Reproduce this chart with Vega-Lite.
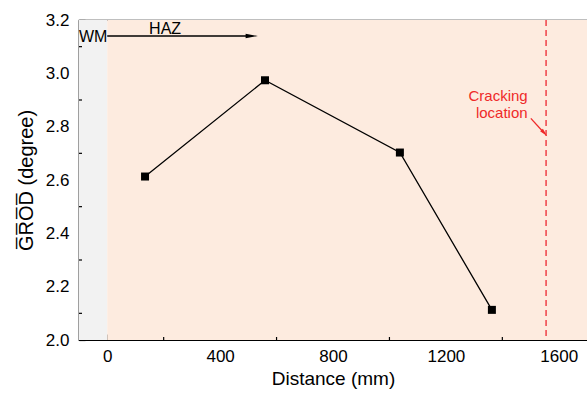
{
  "$schema": "https://vega.github.io/schema/vega-lite/v6.json",
  "width": 508,
  "height": 320,
  "autosize": "none",
  "padding": {"left": 79, "top": 20, "right": 0, "bottom": 55},
  "background": "white",
  "config": {
    "font": "Liberation Sans",
    "view": {"stroke": "black", "strokeWidth": 1.2},
    "axis": {"grid": false, "domainColor": "black", "tickColor": "black", "labelColor": "black", "titleColor": "black", "labelFont": "Liberation Sans", "titleFont": "Liberation Sans", "labelFontSize": 17, "titleFontSize": 19, "titleFontWeight": "normal"}
  },
  "datasets": {
    "pts": [
      {"d": 134, "g": 2.613},
      {"d": 559, "g": 2.974},
      {"d": 1037, "g": 2.703},
      {"d": 1363, "g": 2.113}
    ],
    "zones": [
      {"zone": "WM", "x1": -100, "x2": 0},
      {"zone": "HAZ", "x1": 0, "x2": 1700}
    ]
  },
  "layer": [
    {
      "data": {"name": "zones"},
      "mark": {"type": "rect", "strokeWidth": 0},
      "encoding": {
        "x": {"field": "x1", "type": "quantitative", "scale": {"domain": [-100, 1700], "nice": false, "zero": false},
          "axis": {"title": "Distance (mm)", "values": [0, 400, 800, 1200, 1600], "format": "d", "tickSize": -6, "tickWidth": 1.2, "domainWidth": 1.2, "labelPadding": 14, "titlePadding": 5}},
        "x2": {"field": "x2"},
        "y": {"datum": 2.0, "type": "quantitative", "scale": {"domain": [2.0, 3.2], "nice": false, "zero": false},
          "axis": {"title": "G\u0305R\u0305O\u0305D\u0305 (degree)", "titleFontSize": 20, "values": [2.0, 2.2, 2.4, 2.6, 2.8, 3.0, 3.2], "format": ".1f", "tickSize": -6, "tickWidth": 1.2, "domainWidth": 1.2, "labelPadding": 16, "titlePadding": 9}},
        "y2": {"datum": 3.2},
        "color": {"field": "zone", "type": "nominal", "scale": {"domain": ["WM", "HAZ"], "range": ["#f2f2f2", "#fdebdf"]}, "legend": null}
      }
    },
    {
      "data": {"values": [{"v": 200}, {"v": 600}, {"v": 1000}, {"v": 1400}]},
      "mark": {"type": "rule", "color": "black", "strokeWidth": 1.2, "y2Offset": -3},
      "encoding": {
        "x": {"field": "v", "type": "quantitative"},
        "y": {"datum": 2.0, "type": "quantitative"},
        "y2": {"datum": 2.0}
      }
    },
    {
      "data": {"values": [{"v": 2.1}, {"v": 2.3}, {"v": 2.5}, {"v": 2.7}, {"v": 2.9}, {"v": 3.1}]},
      "mark": {"type": "rule", "color": "black", "strokeWidth": 1.2, "x2Offset": 3},
      "encoding": {
        "y": {"field": "v", "type": "quantitative"},
        "x": {"datum": -100, "type": "quantitative"},
        "x2": {"datum": -100}
      }
    },
    {
      "data": {"values": [{"x": 1555}]},
      "mark": {"type": "rule", "color": "#ef4047", "strokeWidth": 1.5, "strokeDash": [6, 4]},
      "encoding": {"x": {"field": "x", "type": "quantitative"}}
    },
    {
      "data": {"name": "pts"},
      "mark": {"type": "line", "color": "black", "strokeWidth": 1.3},
      "encoding": {"x": {"field": "d", "type": "quantitative"}, "y": {"field": "g", "type": "quantitative"}}
    },
    {
      "data": {"name": "pts"},
      "mark": {"type": "point", "shape": "square", "filled": true, "color": "black", "opacity": 1, "size": 64},
      "encoding": {"x": {"field": "d", "type": "quantitative"}, "y": {"field": "g", "type": "quantitative"}}
    },
    {
      "data": {"values": [{"x1": 0, "x2": 505, "y": 3.14}]},
      "mark": {"type": "rule", "color": "black", "strokeWidth": 1.3},
      "encoding": {"x": {"field": "x1", "type": "quantitative"}, "x2": {"field": "x2"}, "y": {"field": "y", "type": "quantitative"}}
    },
    {
      "data": {"values": [{"x": 512, "y": 3.14}]},
      "mark": {"type": "point", "shape": "M-1,-0.35L1,0L-1,0.35Z", "filled": true, "color": "black", "opacity": 1, "size": 150},
      "encoding": {"x": {"field": "x", "type": "quantitative"}, "y": {"field": "y", "type": "quantitative"}}
    },
    {
      "data": {"values": [{"x1": 1501, "y1": 2.831, "x2": 1545, "y2": 2.78}]},
      "mark": {"type": "rule", "color": "#ef2929", "strokeWidth": 1.3},
      "encoding": {"x": {"field": "x1", "type": "quantitative"}, "x2": {"field": "x2"}, "y": {"field": "y1", "type": "quantitative"}, "y2": {"field": "y2"}}
    },
    {
      "data": {"values": [{"x": 1549, "y": 2.776}]},
      "mark": {"type": "point", "shape": "M-1,-0.45L1,0L-1,0.45Z", "filled": true, "color": "#ef2929", "opacity": 1, "size": 70, "angle": 47},
      "encoding": {"x": {"field": "x", "type": "quantitative"}, "y": {"field": "y", "type": "quantitative"}}
    },
    {
      "data": {"values": [{"t": "WM", "x": -100, "y": 3.135}]},
      "mark": {"type": "text", "align": "left", "baseline": "middle", "fontSize": 16, "color": "black", "dx": 0, "font": "Liberation Sans"},
      "encoding": {"x": {"field": "x", "type": "quantitative"}, "y": {"field": "y", "type": "quantitative"}, "text": {"field": "t"}}
    },
    {
      "data": {"values": [{"t": "HAZ", "x": 205, "y": 3.165}]},
      "mark": {"type": "text", "align": "center", "baseline": "middle", "fontSize": 16, "color": "black", "font": "Liberation Sans"},
      "encoding": {"x": {"field": "x", "type": "quantitative"}, "y": {"field": "y", "type": "quantitative"}, "text": {"field": "t"}}
    },
    {
      "data": {"values": [{"t": "Cracking", "x": 1385, "y": 2.915}, {"t": "location", "x": 1398, "y": 2.85}]},
      "mark": {"type": "text", "align": "center", "baseline": "middle", "fontSize": 15, "color": "#ef2929", "font": "Liberation Sans"},
      "encoding": {"x": {"field": "x", "type": "quantitative"}, "y": {"field": "y", "type": "quantitative"}, "text": {"field": "t"}}
    }
  ]
}
